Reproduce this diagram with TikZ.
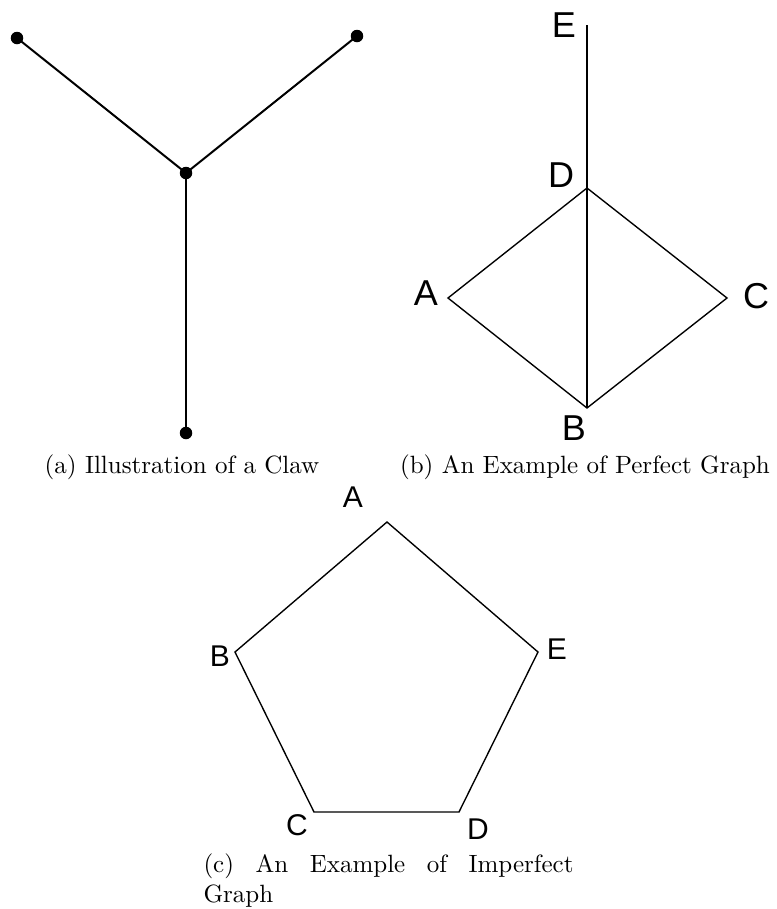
\documentclass[tikz,border=0pt]{standalone}
\usepackage{fontspec}
\newfontfamily\labelfont{Liberation Sans}
\usetikzlibrary{positioning}

\begin{document}
\begin{tikzpicture}[x=0.4pt, y=-0.4pt,
    dot/.style={circle, fill, inner sep=0pt, minimum size=5pt},
    clawedge/.style={line width=0.8pt},
    edge/.style={line width=0.55pt},
    lblb/.style={inner sep=0pt, font=\labelfont\Large},
    lblc/.style={inner sep=0pt, font=\labelfont\large},
    capt/.style={inner sep=0pt, font=\normalsize}]
  \useasboundingbox (0,0) rectangle (776,909);
  % (a) claw
  \node[dot] (w1) at (17,38) {};
  \node[dot] (w2) at (357,36) {};
  \node[dot] (w0) at (186,173) {};
  \node[dot] (w3) at (186,433) {};
  \draw[clawedge] (w1.center) -- (w0.center) -- (w2.center);
  \draw[clawedge] (w0.center) -- (w3.center);
  \node[capt, anchor=base] (capa) at (182,473) {(a) Illustration of a Claw};
  % (b) perfect graph
  \coordinate (pE) at (587,25);
  \coordinate (pD) at (587,188);
  \coordinate (pA) at (448,298);
  \coordinate (pC) at (727,298);
  \coordinate (pB) at (587,408);
  \draw[edge] (pE) -- (pD) -- (pB);
  \draw[edge] (pD) -- (pA) -- (pB) -- (pC) -- cycle;
  \node[lblb] (lE) at (564,25) {E};
  \node[lblb] (lD) at (561,175) {D};
  \node[lblb] (lA) at (426,293) {A};
  \node[lblb] (lC) at (756,296) {C};
  \node[lblb] (lB) at (574,428) {B};
  \node[capt, anchor=base] (capb) at (585,473) {(b) An Example of Perfect Graph};
  % (c) imperfect graph
  \coordinate (qA) at (387,522);
  \coordinate (qB) at (235,652);
  \coordinate (qC) at (314,812);
  \coordinate (qD) at (459,812);
  \coordinate (qE) at (538,652);
  \draw[edge] (qA) -- (qB) -- (qC) -- (qD) -- (qE) -- cycle;
  \node[lblc] (mA) at (353,497) {A};
  \node[lblc] (mB) at (220,656) {B};
  \node[lblc] (mE) at (557,649) {E};
  \node[lblc] (mC) at (297,825) {C};
  \node[lblc] (mD) at (478,829) {D};
  \node[capt, anchor=north west, text width=148pt, align=justify] (capc) at (203,853)
    {(c) An Example of Imperfect Graph};
\end{tikzpicture}
\end{document}
